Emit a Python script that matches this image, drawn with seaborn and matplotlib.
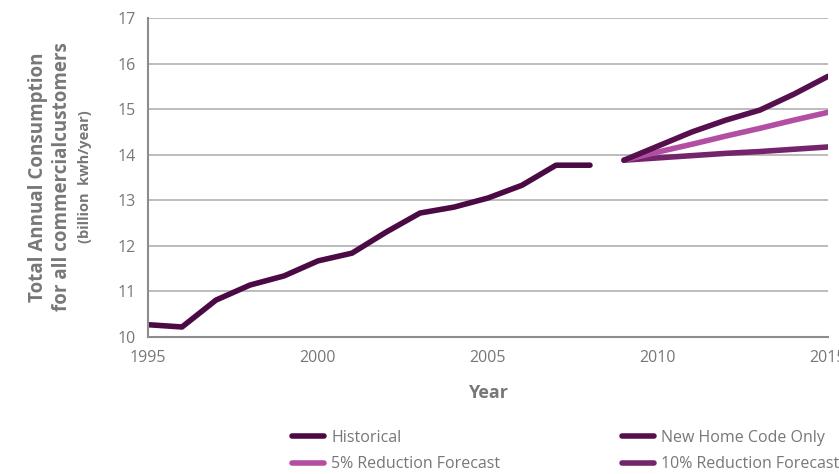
import numpy as np
import pandas as pd
import matplotlib.pyplot as plt
import seaborn as sns

# Data
hist_years = list(range(1995, 2009))
hist_vals = [10.27, 10.22, 10.81, 11.14, 11.34, 11.67, 11.84, 12.30, 12.72, 12.85,
             13.05, 13.33, 13.77, 13.77]

fc_years = list(range(2009, 2016))
new_code_vals = [13.88, 14.19, 14.50, 14.76, 14.98, 15.33, 15.72]
red5_vals = [13.88, 14.06, 14.23, 14.41, 14.58, 14.76, 14.93]
red10_vals = [13.88, 13.93, 13.98, 14.03, 14.07, 14.12, 14.17]

series_names = ['Historical', 'New Home Code Only', '5% Reduction Forecast', '10% Reduction Forecast']
series_colors = ['#4b0a44', '#56104e', '#b24fa2', '#74246a']

df = pd.concat([
    pd.DataFrame({'Year': hist_years, 'Value': hist_vals, 'Series': series_names[0]}),
    pd.DataFrame({'Year': fc_years, 'Value': new_code_vals, 'Series': series_names[1]}),
    pd.DataFrame({'Year': fc_years, 'Value': red5_vals, 'Series': series_names[2]}),
    pd.DataFrame({'Year': fc_years, 'Value': red10_vals, 'Series': series_names[3]}),
])

sns.set_style('white')
plt.rcParams['font.family'] = ['Open Sans', 'DejaVu Sans']
grey = '#777777'

fig = plt.figure(figsize=(8.39, 4.74), dpi=100)
ax = fig.add_axes([148 / 839, 1 - 337 / 474, 680 / 839, 319 / 474])

# draw in reverse so historical / new code sit on top
sns.lineplot(data=df, x='Year', y='Value', hue='Series', hue_order=series_names[::-1],
             palette=series_colors[::-1], linewidth=4, ax=ax, legend=False,
             solid_capstyle='round')

ax.set_xlim(1995, 2015)
ax.set_ylim(10, 17)
ax.set_xticks([1995, 2000, 2005, 2010, 2015])
ax.set_yticks(range(10, 18))
ax.yaxis.grid(True, color='#b0b0b0', linewidth=1.2)
ax.set_axisbelow(True)
for s in ['top', 'right']:
    ax.spines[s].set_visible(False)
for s in ['left', 'bottom']:
    ax.spines[s].set_color('#8c8c8c')
    ax.spines[s].set_linewidth(1.5)
ax.tick_params(direction='inout', length=10, width=1.5, color='#8c8c8c',
               labelcolor=grey, labelsize=11.5, pad=4)

ax.set_xlabel('Year', fontsize=13, fontweight='bold', color=grey, labelpad=13)
ax.set_ylabel('')

fig.text(38 / 839, 1 - 177 / 474, 'Total Annual Consumption', rotation=90,
         ha='center', va='center', fontsize=13.5, fontweight='bold', color=grey)
fig.text(62 / 839, 1 - 177 / 474, 'for all commercialcustomers', rotation=90,
         ha='center', va='center', fontsize=13.5, fontweight='bold', color=grey)
fig.text(85 / 839, 1 - 177 / 474, '(billion  kwh/year)', rotation=90,
         ha='center', va='center', fontsize=10.5, fontweight='bold', color=grey)

# legend: column-wise ordering gives Historical / New Home on first row
handles = [plt.Line2D([], [], color=c, linewidth=4, solid_capstyle='round') for c in series_colors]
order = [0, 2, 1, 3]
leg = fig.legend([handles[i] for i in order], [series_names[i] for i in order],
                 ncol=2, loc='upper left', bbox_to_anchor=(292 / 839, 1 - 430 / 474),
                 frameon=False, fontsize=11.5, handlelength=2.0, handletextpad=0.45,
                 columnspacing=7.6, labelspacing=0.65, borderpad=0, borderaxespad=0)
for t in leg.get_texts():
    t.set_color(grey)

fig.savefig('out.png', dpi=100)
